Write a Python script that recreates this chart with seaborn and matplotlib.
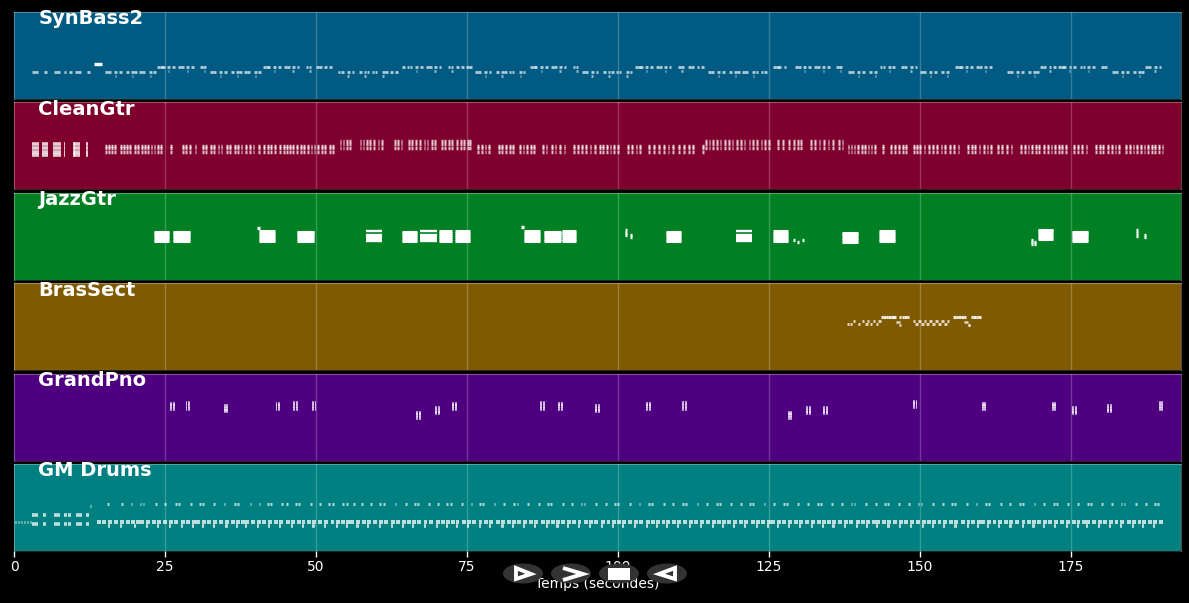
import pandas as pd
import seaborn as sns
import matplotlib.pyplot as plt
from matplotlib.patches import Ellipse, Polygon, Rectangle

# onset times (seconds), one list per pitch row
syn_low = [3.0, 3.5, 5.0, 6.6, 7.1, 8.2, 9.1, 10.1, 10.6, 12.1,
           15.1, 15.6, 16.6, 17.4, 18.6, 19.4, 19.9, 20.7, 21.2, 22.4, 23.0,
           32.5, 33.0, 34.0, 34.8, 36.0, 36.8, 37.3, 38.1, 38.6, 39.8, 40.4,
           53.6, 54.1, 55.1, 55.9, 57.1, 57.9, 58.4, 59.2, 59.7, 60.9, 61.5, 62.3, 63.1,
           76.3, 76.8, 77.8, 78.6, 79.8, 80.6, 81.1, 81.9, 82.4, 83.6, 84.2,
           94.0, 94.5, 95.5, 96.3, 97.5, 98.3, 98.8, 99.6, 100.1, 101.3, 101.9,
           114.9, 115.4, 116.4, 117.2, 118.4, 119.2, 119.7, 120.5, 121.0, 122.2, 122.8, 123.6, 124.2,
           138.1, 138.6, 139.6, 140.4, 141.6, 142.4,
           150.0, 150.5, 151.5, 152.3, 153.5, 154.3,
           164.4, 164.9, 165.9, 166.7, 167.9, 168.7, 169.2,
           181.8, 182.3, 183.3, 184.1, 185.3, 186.1, 186.6]
syn_high = [23.7, 24.2, 24.5, 25.4, 26.2, 27.2, 27.7, 28.5, 29.3, 30.8, 31.3,
            41.2, 41.7, 42.0, 42.9, 43.7, 44.7, 45.2, 46.0, 46.8, 48.3, 48.8,
            50.0, 50.5, 51.4, 52.2,
            64.2, 65.0, 65.5, 66.4, 67.2, 68.2, 68.7, 69.5, 70.3, 71.8, 72.3, 73.2, 74.0, 74.8, 75.4,
            85.4, 85.9, 86.2, 87.1, 87.9, 88.9, 89.4, 90.2, 91.0, 92.5, 93.0,
            102.8, 103.3, 103.6, 104.5, 105.3, 106.3, 106.8, 107.6, 108.4, 109.9, 110.4,
            111.6, 112.1, 113.0, 113.8,
            125.7, 126.2, 126.5, 127.4, 129.3, 129.8, 130.7, 131.5, 132.5, 133.0, 133.8, 134.6, 136.1, 136.6,
            143.3, 143.8, 144.7, 145.4, 146.9, 147.4, 148.3, 149.1,
            155.8, 156.3, 156.6, 157.5, 158.3, 159.3, 159.8, 160.6, 161.4,
            169.9, 170.4, 171.3, 172.0, 172.9, 173.4, 173.7, 174.6, 175.4, 176.4, 176.9, 177.7, 178.5, 180.0, 180.5,
            187.3, 187.8, 188.7, 189.5]
syn_low_stem = [16.7, 19.5, 22.5, 34.1, 36.9, 39.9, 55.2, 58.0, 61.0, 77.9, 80.7, 83.7,
                95.6, 98.4, 101.4, 116.5, 119.3, 122.3, 139.7, 142.5, 151.6, 154.4,
                166.0, 168.8, 183.4, 186.2]
syn_high_stem = [25.5, 28.6, 31.4, 43.0, 46.1, 48.9, 66.5, 69.6, 72.4, 87.2, 90.3, 93.1,
                 104.6, 107.7, 110.5, 130.8, 133.9, 136.7, 144.8, 148.4, 157.6, 160.7,
                 171.4, 174.7, 177.8, 188.8]
syn_top = [13.2, 13.8]

clean_intro = [3.0, 3.3, 3.6, 3.9, 4.7, 5.0, 5.3, 6.5, 6.8, 7.1, 7.4, 8.2, 9.7, 10.0, 10.3, 10.6, 11.9]
clean_low = [15.1, 15.6, 16.1, 16.6, 17.6, 18.1, 18.6, 19.1, 19.9, 20.4, 21.1, 21.6, 22.1, 22.6,
             23.1, 23.7, 24.2, 25.9, 27.8, 28.3, 29.0, 29.9, 31.2, 31.7, 32.4, 33.0, 33.7, 34.2,
             35.1, 35.6, 36.4, 37.0, 37.5, 38.2, 38.9, 39.5, 40.4, 41.3, 41.9, 42.4, 43.0,
             43.9, 44.5, 45.0, 45.6, 46.1, 46.7, 47.3, 47.9, 48.5, 49.1, 49.6, 50.2, 50.8, 51.4, 52.1, 52.6,
             76.7, 77.3, 77.9, 78.5, 80.1, 80.7, 81.3, 81.9, 82.5, 83.6, 84.2, 84.8, 85.4, 86.0,
             87.4, 88.0, 88.9, 89.5, 90.2, 91.0, 92.6, 93.2, 93.9, 94.5, 95.3, 96.0, 96.8, 97.4,
             98.0, 98.6, 99.2, 99.8, 101.5, 102.2, 102.9, 103.5, 105.0, 105.8, 106.6, 107.4, 108.2, 108.9,
             110.0, 110.8, 111.6, 112.3, 113.9,
             138.0, 138.5, 139.0, 139.6, 140.2, 140.8, 141.3, 141.8, 142.4, 143.7, 145.0, 145.7, 146.3,
             147.0, 147.5, 148.8, 149.3, 149.9, 150.6, 151.3, 152.0, 152.7, 153.4, 154.0, 154.8, 155.5,
             156.2, 157.8, 158.4, 159.0, 159.7, 160.4, 161.0, 161.6, 162.7, 163.4, 164.2, 165.0,
             166.6, 167.2, 167.8, 168.4, 169.0, 169.6, 170.4, 171.0, 171.6, 172.2, 172.8, 173.4, 174.0,
             175.3, 176.0, 176.7, 177.4, 179.0, 179.6, 180.2, 180.9, 181.6, 182.2, 182.8,
             184.0, 184.6, 185.2, 185.8, 186.4, 187.0, 187.6, 188.2, 188.8, 189.4, 190.0]
clean_high = [53.9, 54.4, 55.0, 55.5, 57.2, 57.7, 58.3, 58.8, 59.4, 60.2, 60.8, 62.9, 63.4, 64.0,
              65.2, 65.8, 66.4, 67.0, 67.8, 68.3, 69.0, 69.6, 70.7, 71.2, 71.8, 72.4, 73.2, 73.8,
              74.4, 75.0, 75.4,
              114.4, 115.0, 115.6, 116.2, 116.8, 117.6, 118.2, 118.8, 119.6, 120.2, 120.8, 121.6,
              122.2, 122.8, 123.6, 124.2, 124.8, 126.3, 127.2, 128.2, 129.0, 129.6, 130.2,
              131.8, 132.5, 133.2, 133.9, 134.7, 135.4, 136.4, 137.0]
clean_intro_rows = [66, 60, 54, 50]
clean_low_rows = [64, 60, 55]
clean_high_rows = [71, 67, 61]

jazz_start = [23.1, 26.3, 40.6, 46.9, 64.2, 70.4, 73.0, 84.4, 87.7, 90.7,
              108.0, 125.7, 137.1, 143.2, 169.5, 175.2]
jazz_dur = [2.6, 2.9, 2.6, 2.8, 2.5, 2.1, 2.5, 2.6, 2.9, 2.3,
            2.5, 2.5, 2.6, 2.6, 2.5, 2.6]
jazz_shift = [-1, -1, 0, -1, -1, 0, 0, 0, -1, 0, -1, 0, -2, 0, 2, -1]
jazz_rows = [57, 60, 63, 66, 69, 71]
jazz_split_start = [58.2, 67.2, 119.6]
jazz_split_dur = [2.7, 2.8, 2.6]
jazz_split_rows = [56, 59, 62, 65, 71]
jazz_bits_start = [40.3, 84.0, 101.1, 101.1, 101.1, 102.0, 102.0, 128.9, 129.6, 130.5,
                   168.4, 168.4, 168.4, 168.9, 168.9, 185.8, 185.8, 185.8, 187.0, 187.0]
jazz_bits_pitch = [75, 77, 72, 68, 65, 66, 62, 58, 55, 58,
                   58, 55, 52, 55, 52, 72, 68, 64, 66, 63]

brass_low = [137.9, 138.4, 139.7, 140.9, 141.7, 142.7, 149.2, 150.2, 151.0, 152.0, 153.0, 154.0]
brass_mid = [138.9, 140.4, 141.2, 142.2, 143.1, 148.8, 149.7, 150.6, 151.5, 152.5, 153.5, 154.4]
brass_high = [143.5, 143.9, 144.3, 144.7, 145.2, 145.6, 146.5, 147.0, 147.4, 147.8,
              155.5, 155.9, 156.3, 156.8, 157.2, 158.4, 158.8, 159.2, 159.6]
brass_stem_a = [146.0, 146.3, 157.3, 157.6]
brass_stem_b = [146.5, 157.9, 158.0]

piano_groups = [25.9, 28.4, 34.7, 43.3, 46.2, 49.3, 66.6, 69.7, 72.5, 87.1, 90.1, 96.2, 104.7,
                110.6, 128.1, 131.1, 134.0, 148.8, 160.2, 171.8, 175.2, 181.0, 189.5]
piano_tops = [83, 84, 80, 83, 84, 84, 70, 77, 83, 84, 83, 80, 83,
              84, 70, 77, 77, 86, 83, 83, 77, 80, 84]
piano_chord_rows = [0, -4, -8]

drum_intro_dots = [0.2, 0.7, 1.2, 1.7, 2.2, 2.6]
drum_intro = [3.0, 3.5, 4.8, 6.6, 7.1, 8.3, 9.0, 10.2, 10.7, 11.9]
drum_pickup = [12.6]
drum_top = [15.4, 17.7, 19.3, 20.8, 21.3, 23.3, 24.9, 26.7, 27.2, 29.1, 30.6, 31.1, 33.0, 34.7, 36.5, 37.0,
            39.0, 40.5, 41.9, 42.4, 44.2, 45.0, 46.5, 47.0, 49.0, 50.5, 52.0, 52.6, 54.3, 55.0, 56.2, 57.5,
            59.0, 60.5, 61.1, 63.0, 64.7, 66.2, 66.8, 68.5, 70.1, 71.6, 72.2, 74.0, 75.6, 77.0, 77.5, 79.4,
            81.0, 82.6, 83.2, 85.0, 86.7, 88.3, 88.8, 90.7, 92.2, 93.8, 94.3, 96.2, 97.8, 99.4, 99.9, 101.8,
            103.4, 105.0, 105.5, 107.4, 109.0, 110.6, 111.1, 113.0, 114.6, 116.2, 116.7, 118.6, 120.2, 121.7,
            122.2, 124.1, 125.7, 127.3, 127.8, 129.7, 131.3, 132.9, 133.4, 135.3, 136.9, 138.5, 139.0, 140.9,
            142.5, 144.0, 144.5, 146.4, 148.0, 149.6, 150.1, 152.0, 153.6, 155.2, 155.7, 157.6, 159.2, 160.8,
            161.3, 163.2, 164.8, 166.4, 166.9, 168.8, 170.4, 172.0, 172.5, 174.4, 176.0, 177.6, 178.1, 180.0,
            181.6, 183.2, 183.7, 185.6, 187.2, 188.8, 189.3]
drum_main = [13.8, 14.5, 15.6, 16.5, 17.6, 18.5, 19.3, 20.2, 20.9, 21.9, 22.8, 23.7, 24.7, 25.6, 26.5, 27.6, 28.5,
             29.4, 30.2, 31.1, 32.0, 33.0, 33.9, 35.0, 35.9, 36.7, 37.6, 38.3, 39.3, 40.2, 41.1, 42.1, 43.0,
             43.9, 45.0, 45.9, 46.8, 47.6, 48.5, 49.4, 50.4, 51.3, 52.4, 53.3, 54.1, 55.0, 55.7, 56.7, 57.6,
             58.5, 59.5, 60.4, 61.3, 62.4, 63.3, 64.2, 65.0, 65.9, 66.8, 67.8, 68.7, 69.8, 70.7, 71.5, 72.4,
             73.1, 74.1, 75.0, 75.9, 76.9, 77.8, 78.7, 79.8, 80.7, 81.6, 82.4, 83.3, 84.2, 85.2, 86.1, 87.2,
             88.1, 88.9, 89.8, 90.5, 91.5, 92.4, 93.3, 94.3, 95.2, 96.1, 97.2, 98.1, 99.0, 99.8, 100.7, 101.6,
             102.6, 103.5, 104.6, 105.5, 106.3, 107.2, 107.9, 108.9, 109.8, 110.7, 111.7, 112.6, 113.5, 114.6,
             115.5, 116.4, 117.2, 118.1, 119.0, 120.0, 120.9, 122.0, 122.9, 123.7, 124.6, 125.3, 126.3, 127.2,
             128.1, 129.1, 130.0, 130.9, 132.0, 132.9, 133.8, 134.6, 135.5, 136.4, 137.4, 138.3, 139.4, 140.3,
             141.1, 142.0, 142.7, 143.7, 144.6, 145.5, 146.5, 147.4, 148.3, 149.4, 150.3, 151.2, 152.0, 152.9,
             153.8, 154.8, 155.7, 156.8, 157.7, 158.5, 159.4, 160.1, 161.1, 162.0, 162.9, 163.9, 164.8, 165.7,
             166.8, 167.7, 168.6, 169.4, 170.3, 171.2, 172.2, 173.1, 174.2, 175.1, 175.9, 176.8, 177.5, 178.5,
             179.4, 180.3, 181.3, 182.2, 183.1, 184.2, 185.1, 186.0, 186.8, 187.7, 188.6, 189.6]
drum_lower = [15.6, 17.6, 19.9, 21.9, 23.7, 25.6, 27.6, 29.4, 31.1, 33.0, 35.0, 36.7, 38.3, 40.2, 42.1, 43.9, 45.9,
              47.6, 49.4, 51.3, 53.3, 55.0, 56.7, 58.5, 60.4, 62.4, 64.2, 65.9, 67.8, 69.8, 71.5, 73.1, 75.0,
              76.9, 78.7, 80.7, 82.4, 84.2, 86.1, 88.1, 89.8, 91.5, 93.3, 95.2, 97.2, 99.0, 100.7, 102.6,
              104.6, 106.3, 107.9, 109.8, 111.7, 113.5, 115.5, 117.2, 119.0, 120.9, 122.9, 124.6, 126.3,
              128.1, 130.0, 132.0, 133.8, 135.5, 137.4, 139.4, 141.1, 142.7, 144.6, 146.5, 148.3, 150.3,
              152.0, 153.8, 155.7, 157.7, 159.4, 161.1, 162.9, 164.8, 166.8, 168.6, 170.3, 172.2, 174.2,
              175.9, 177.5, 179.4, 181.3, 183.1, 185.1, 186.8, 188.6]

track_names = ["SynBass2", "CleanGtr", "JazzGtr", "BrasSect", "GrandPno", "GM Drums"]
track_colors = ["#005a82", "#80002d", "#008023", "#805a00", "#4f0080", "#008080"]
time_ticks = [0, 25, 50, 75, 100, 125, 150, 175]


def draw_notes(ax, starts, pitch, dur, lw=2.0, alpha=0.75):
    # every note is a short horizontal line, start to end
    rows = []
    for i, s in enumerate(starts):
        rows.append({"note": i, "time": s, "pitch": pitch})
        rows.append({"note": i, "time": s + dur, "pitch": pitch})
    sns.lineplot(data=pd.DataFrame(rows), x="time", y="pitch", units="note", estimator=None,
                 color="white", alpha=alpha, linewidth=lw, solid_capstyle="butt", legend=False, ax=ax)


sns.set_theme(style="dark", rc={"figure.facecolor": "black", "savefig.facecolor": "black"})
plt.rcParams["font.family"] = ["DejaVu Sans"]

fig, axes = plt.subplots(6, 1, sharex=True, figsize=(11.89, 6.03), dpi=100)
fig.subplots_adjust(left=14 / 1189, right=1181 / 1189, top=1 - 12 / 603, bottom=1 - 551 / 603, hspace=0.039)

# SynBass2
draw_notes(axes[0], syn_low, 39, 0.45, lw=2.0, alpha=0.7)
draw_notes(axes[0], syn_high, 46, 0.45, lw=2.0, alpha=0.7)
draw_notes(axes[0], syn_low_stem, 34, 0.2, lw=2.0, alpha=0.6)
draw_notes(axes[0], syn_high_stem, 41, 0.2, lw=2.0, alpha=0.6)
draw_notes(axes[0], syn_top, 51, 0.7, lw=2.4, alpha=0.95)

# CleanGtr
for p in clean_intro_rows:
    draw_notes(axes[1], clean_intro, p, 0.32, lw=2.6, alpha=0.8)
for p in clean_low_rows:
    draw_notes(axes[1], clean_low, p, 0.3, lw=2.5, alpha=0.75)
for p in clean_high_rows:
    draw_notes(axes[1], clean_high, p, 0.3, lw=2.5, alpha=0.75)

# JazzGtr
for start, dur, shift in zip(jazz_start, jazz_dur, jazz_shift):
    for p in jazz_rows:
        draw_notes(axes[2], [start], p + shift, dur, lw=2.2, alpha=1)
for start, dur in zip(jazz_split_start, jazz_split_dur):
    for p in jazz_split_rows:
        draw_notes(axes[2], [start], p, dur, lw=1.7, alpha=1)
for start, p in zip(jazz_bits_start, jazz_bits_pitch):
    draw_notes(axes[2], [start], p, 0.35, lw=2.4, alpha=1)

# BrasSect
draw_notes(axes[3], brass_low, 68, 0.4, lw=2.0, alpha=0.8)
draw_notes(axes[3], brass_mid, 72, 0.4, lw=2.0, alpha=0.8)
draw_notes(axes[3], brass_high, 77, 0.42, lw=2.2, alpha=0.9)
draw_notes(axes[3], brass_stem_a, 71, 0.3, lw=1.8, alpha=0.8)
draw_notes(axes[3], brass_stem_b, 66, 0.3, lw=1.8, alpha=0.8)

# GrandPno
for t, top in zip(piano_groups, piano_tops):
    for r in piano_chord_rows:
        draw_notes(axes[4], [t, t + 0.45], top + r, 0.32, lw=2.6, alpha=0.7)

# GM Drums
draw_notes(axes[5], drum_intro_dots, 43, 0.2, lw=2.0, alpha=0.8)
draw_notes(axes[5], drum_intro, 53, 0.5, lw=2.6, alpha=0.75)
draw_notes(axes[5], drum_intro, 39, 0.5, lw=2.6, alpha=0.75)
draw_notes(axes[5], drum_pickup, 66, 0.2, lw=2.4, alpha=0.7)
draw_notes(axes[5], drum_top, 69, 0.3, lw=2.2, alpha=0.7)
draw_notes(axes[5], drum_main, 42, 0.65, lw=2.9, alpha=0.75)
draw_notes(axes[5], drum_lower, 36, 0.35, lw=2.6, alpha=0.75)

for ax, name, color in zip(axes, track_names, track_colors):
    ax.set_facecolor(color)
    ax.set_xlim(0, 193.2)
    ax.set_ylim(0, 127)
    ax.set_yticks([])
    ax.set_ylabel("")
    ax.set_xlabel("")
    ax.set_xticks(time_ticks)
    for t in time_ticks[1:]:
        ax.axvline(t, color="white", alpha=0.22, lw=1, zorder=1)
    for spine in ax.spines.values():
        spine.set_visible(True)
        spine.set_edgecolor((1, 1, 1, 0.3))
        spine.set_linewidth(0.8)
    ax.spines["bottom"].set_edgecolor((1, 1, 1, 0.15))
    ax.text(4, 0.92, name, transform=ax.get_xaxis_transform(), color="white", fontsize=14,
            fontweight="bold", va="center", ha="left", clip_on=False, zorder=5)
    ax.tick_params(axis="x", length=0, labelbottom=False)

axes[-1].tick_params(axis="x", length=4, width=1, color="white", labelcolor="white", labelsize=10,
                     labelbottom=True, bottom=True, pad=2.8)
axes[-1].set_xlabel("Temps (secondes)", color="white", fontsize=10, labelpad=1.5)

# player buttons sitting over the time axis, drawn in picture pixels
overlay = fig.add_axes([0, 0, 1, 1], zorder=10)
overlay.set_xlim(0, 1189)
overlay.set_ylim(603, 0)
overlay.axis("off")
for cx in [523, 571, 619, 667]:
    overlay.add_patch(Ellipse((cx, 573.5), 40, 20, facecolor="#333333", edgecolor="none"))
overlay.add_patch(Polygon([(516, 568), (531, 574), (516, 579)], closed=True, fill=False, edgecolor="white", lw=2.8))
overlay.add_patch(Polygon([(563, 568), (583, 574), (563, 580)], closed=False, fill=False, edgecolor="white", lw=2.8))
overlay.add_patch(Rectangle((608, 568), 22, 12, facecolor="white", edgecolor="none"))
overlay.add_patch(Polygon([(675, 568), (659, 574), (675, 579)], closed=True, fill=False, edgecolor="white", lw=2.8))

fig.savefig("out.png", dpi=100)
